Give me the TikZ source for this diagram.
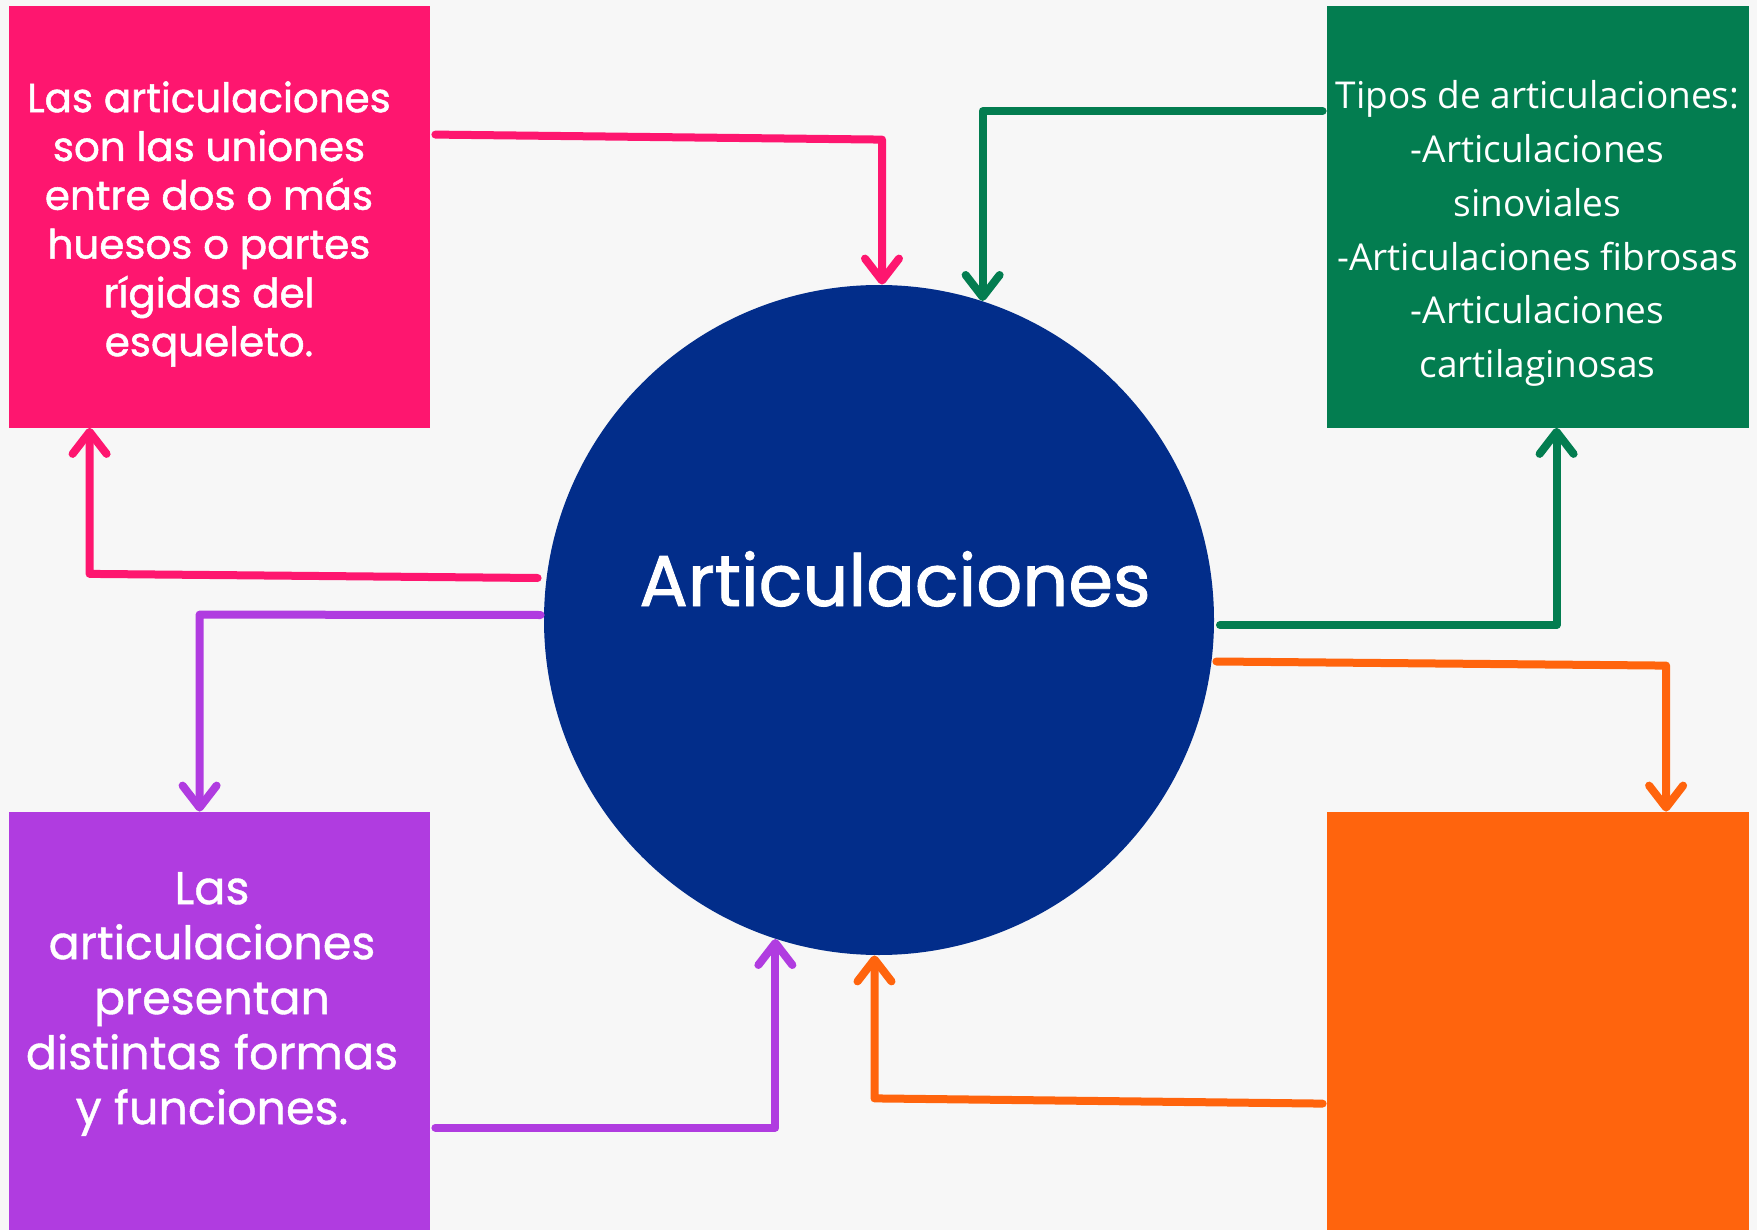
\documentclass[tikz,border=0pt]{standalone}
\usepackage{fontspec}
\setmainfont{Poppins}
\newfontfamily\popmed[FakeBold=0.9]{Poppins}
\newfontfamily\popsemi[FakeBold=1.3]{Poppins}
\newfontfamily\opensans{Open Sans}
\usetikzlibrary{arrows.meta,calc}
\definecolor{bgc}{HTML}{F7F7F7}
\definecolor{pinkc}{HTML}{FE166F}
\definecolor{greenc}{HTML}{037D50}
\definecolor{purplec}{HTML}{B03CE0}
\definecolor{orangec}{HTML}{FF640D}
\definecolor{bluec}{HTML}{022D8A}
\begin{document}
\begin{tikzpicture}[x=0.5pt,y=-0.5pt,
  boxc/.style={rectangle,inner sep=0pt,draw=none},
  txt/.style={text=white,align=center,inner sep=0pt},
  conn/.style={line width=4pt,line cap=round,line join=round,
    -{Straight Barb[length=11pt,width=17pt,round]}}]
\fill[bgc] (0,0) rectangle (1757,1230);
\useasboundingbox (0,0) rectangle (1757,1230);
% boxes
\node[boxc,fill=pinkc,minimum width=210.5pt,minimum height=210.75pt] (pink) at (219.5,216.75) {};
\node[boxc,fill=greenc,minimum width=210.75pt,minimum height=210.75pt] (green) at (1537.75,216.75) {};
\node[boxc,fill=purplec,minimum width=210.5pt,minimum height=214pt] (purple) at (219.5,1026) {};
\node[boxc,fill=orangec,minimum width=210.75pt,minimum height=214pt] (orange) at (1537.75,1026) {};
\node[circle,fill=bluec,inner sep=0pt,minimum size=335pt] (circ) at (879,620) {};
% texts
\node[txt,font=\popsemi\fontsize{20.2}{24.4}\selectfont] (pinktxt) at (209,224)
  {Las articulaciones\\son las uniones\\entre dos o más\\huesos o partes\\rígidas del\\esqueleto.};
\node[txt,font=\opensans\fontsize{18.5}{26.9}\selectfont] (greentxt) at (1537.5,233.5)
  {Tipos de articulaciones:\\-Articulaciones\\sinoviales\\-Articulaciones fibrosas\\-Articulaciones\\cartilaginosas};
\node[txt,font=\popmed\fontsize{23}{27.5}\selectfont] (purpletxt) at (212,1004)
  {Las\\articulaciones\\presentan\\distintas formas\\y funciones.};
\node[txt,font=\popsemi\fontsize{36}{40}\selectfont,anchor=base] (circtxt) at (895,606) {Articulaciones};
% connectors
\coordinate (pt1) at ($(pink.north east)+(5,129)$);
\draw[conn,pinkc] (pt1) -- ($(circ.north)+(3,-145)$) -- ($(circ.north)+(3,0)$);
\coordinate (pl1) at ($(circ.west)+(-6,-42)$);
\draw[conn,pinkc] (pl1) -- ($(pink.south west)+(81,146)$) -- ($(pink.south west)+(81,0)$);
\coordinate (pu1) at ($(circ.west)+(-3,-5)$);
\draw[conn,purplec] (pu1) -- ($(purple.north west)+(191,-197)$) -- ($(purple.north west)+(191,0)$);
\coordinate (pb1) at ($(purple.north east)+(5,316)$);
\draw[conn,purplec] (pb1) -- (pb1 -| circ.252) -- (circ.252);
\coordinate (or1) at ($(circ.east)+(2,41.5)$);
\draw[conn,orangec] (or1) -- ($(orange.north west)+(339.5,-146)$) -- ($(orange.north west)+(339.5,0)$);
\coordinate (ob1) at ($(orange.north west)+(-4,292)$);
\draw[conn,orangec] (ob1) -- ($(circ.south)+(-4.5,143)$) -- ($(circ.south)+(-4.5,0)$);
\coordinate (gt1) at ($(green.north west)+(-4,105.5)$);
\draw[conn,greenc] (gt1) -- (gt1 -| circ.72) -- (circ.72);
\coordinate (gr1) at ($(circ.east)+(5.6,5)$);
\coordinate (gr2) at ($(green.south west)+(230,0)$);
\draw[conn,greenc] (gr1) -- (gr1 -| gr2) -- (gr2);
\end{tikzpicture}
\end{document}
